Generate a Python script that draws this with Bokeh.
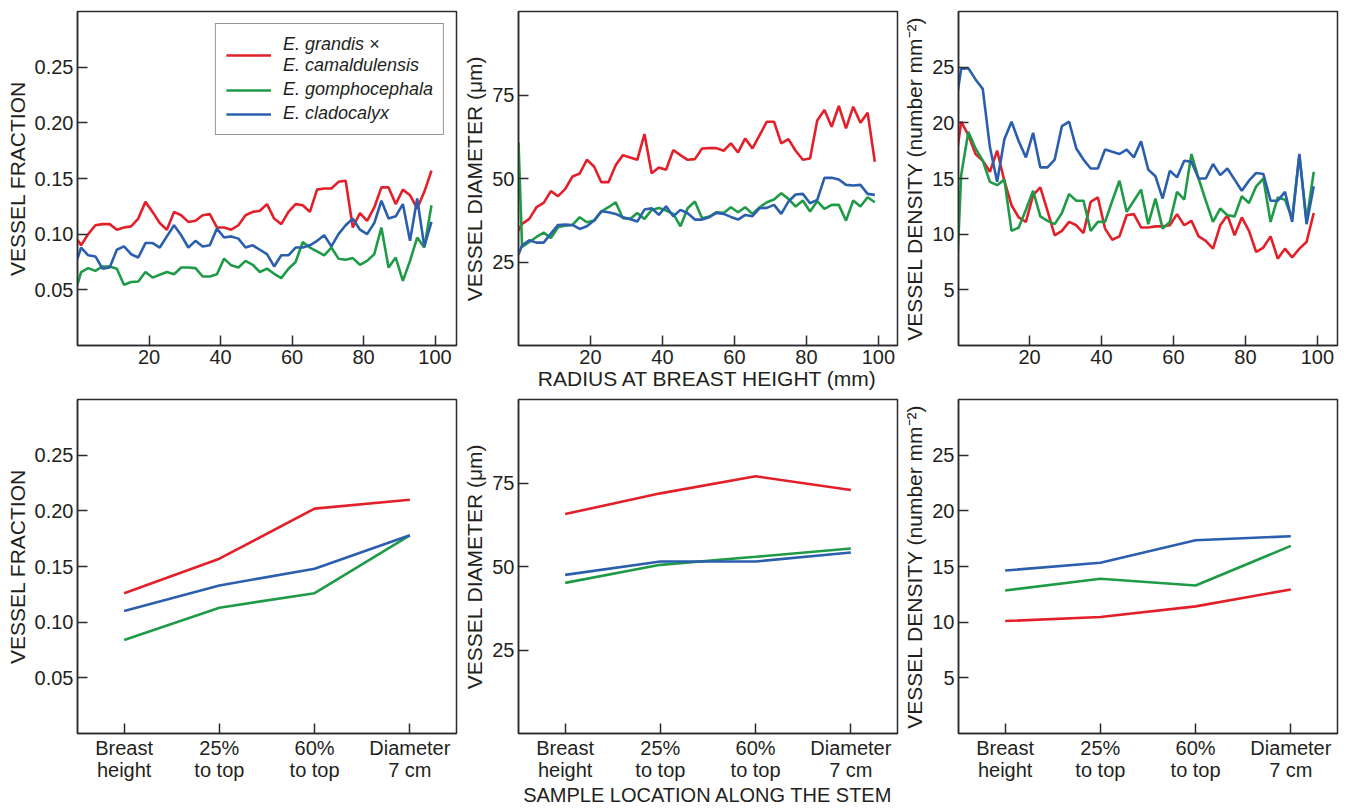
from bokeh.plotting import figure
from bokeh.layouts import column, row
from bokeh.models import FixedTicker, Range1d, PrintfTickFormatter
from bokeh.embed import file_html
from bokeh.resources import INLINE

# ---------------- data ----------------
species = ["E. grandis ×\nE. camaldulensis", "E. gomphocephala", "E. cladocalyx"]
colors = ["#E3202A", "#1F9B48", "#2B5FAE"]

radius_mm = [0, 1, 3, 5, 7, 9, 11, 13, 15, 17, 19, 21, 23, 25, 27, 29, 31, 33, 35, 37,
             39, 41, 43, 45, 47, 49, 51, 53, 55, 57, 59, 61, 63, 65, 67, 69, 71, 73, 75,
             77, 79, 81, 83, 85, 87, 89, 91, 93, 95, 97, 99]

frac_red = [0.095, 0.090, 0.100, 0.108, 0.109, 0.109, 0.104, 0.106, 0.107, 0.114,
            0.129, 0.120, 0.110, 0.104, 0.120, 0.117, 0.111, 0.112, 0.117, 0.118,
            0.106, 0.106, 0.104, 0.108, 0.117, 0.120, 0.121, 0.127, 0.114, 0.109,
            0.120, 0.127, 0.126, 0.120, 0.140, 0.141, 0.141, 0.147, 0.148, 0.106,
            0.119, 0.112, 0.124, 0.142, 0.142, 0.127, 0.140, 0.135, 0.123, 0.138,
            0.157]
frac_green = [0.055, 0.066, 0.0695, 0.067, 0.071, 0.071, 0.069, 0.0545, 0.057, 0.0575,
              0.066, 0.061, 0.0635, 0.066, 0.064, 0.070, 0.070, 0.0695, 0.062, 0.062,
              0.064, 0.078, 0.072, 0.070, 0.076, 0.0725, 0.066, 0.069, 0.0644, 0.0605,
              0.069, 0.075, 0.093, 0.088, 0.0845, 0.081, 0.088, 0.078, 0.077, 0.0785,
              0.0725, 0.076, 0.082, 0.106, 0.070, 0.079, 0.058, 0.076, 0.097, 0.088,
              0.126]
frac_blue = [0.078, 0.088, 0.081, 0.080, 0.069, 0.070, 0.086, 0.089, 0.082, 0.079,
             0.092, 0.092, 0.088, 0.098, 0.108, 0.099, 0.088, 0.094, 0.089, 0.090,
             0.105, 0.097, 0.098, 0.096, 0.088, 0.090, 0.086, 0.082, 0.071, 0.081,
             0.081, 0.088, 0.088, 0.090, 0.094, 0.099, 0.089, 0.100, 0.108, 0.114,
             0.104, 0.100, 0.110, 0.130, 0.114, 0.116, 0.127, 0.094, 0.132, 0.089,
             0.111]

diam_red = [34.4, 36.4, 37.9, 41.4, 42.7, 46.2, 44.7, 46.9, 50.6, 51.5,
            55.6, 53.6, 48.9, 48.9, 54.0, 57.0, 56.3, 55.6, 63.3, 51.6,
            53.3, 52.6, 58.5, 57.0, 55.6, 55.8, 59.0, 59.1, 59.1, 58.3,
            60.5, 57.8, 62.0, 59.0, 63.0, 67.0, 67.0, 60.5, 61.8, 58.3,
            55.6, 56.0, 67.4, 70.5, 65.5, 71.7, 65.0, 71.5, 66.7, 69.7,
            55.0]
diam_green = [60.8, 29.5, 31.0, 32.5, 33.8, 32.2, 35.4, 35.9, 36.1, 38.4,
              36.9, 37.4, 40.1, 41.4, 42.9, 38.1, 37.9, 39.7, 37.9, 40.6,
              41.2, 40.4, 39.4, 35.7, 41.1, 43.1, 38.1, 38.6, 39.9, 39.7,
              41.4, 39.9, 41.4, 39.4, 41.4, 42.9, 43.7, 45.6, 43.9, 41.6,
              43.4, 40.1, 43.2, 40.9, 42.1, 42.1, 37.4, 43.4, 41.6, 44.4,
              42.9]
diam_blue = [27.2, 30.0, 31.5, 30.8, 30.8, 33.5, 36.1, 36.2, 36.1, 34.9,
             35.7, 37.4, 40.2, 39.9, 39.4, 38.4, 37.9, 37.1, 40.7, 41.1,
             39.1, 41.7, 38.7, 40.6, 39.6, 37.7, 37.7, 38.4, 39.7, 39.4,
             38.5, 37.7, 39.1, 38.7, 41.1, 41.2, 42.1, 39.4, 43.1, 45.2,
             45.4, 42.6, 43.6, 50.2, 50.2, 49.7, 48.1, 47.9, 48.1, 45.4,
             45.1]

dens_red = [17.7, 20.1, 18.9, 17.2, 16.6, 15.6, 17.5, 14.8, 12.6, 11.5,
            11.1, 13.5, 14.2, 12.1, 9.9, 10.3, 11.1, 10.8, 10.1, 12.9,
            13.3, 10.5, 9.5, 9.8, 11.7, 11.8, 10.6, 10.6, 10.7, 10.7,
            10.8, 11.8, 10.8, 11.2, 9.8, 9.4, 8.7, 10.8, 11.7, 9.9,
            11.5, 10.3, 8.4, 8.8, 9.8, 7.8, 8.7, 7.9, 8.7, 9.3,
            11.9]
dens_green = [7.9, 15.3, 19.2, 17.7, 16.6, 14.7, 14.4, 14.9, 10.3, 10.6,
              12.2, 13.9, 11.6, 11.2, 10.9, 11.9, 13.6, 13.0, 13.0, 10.3,
              11.1, 11.1, 13.0, 14.8, 12.0, 13.0, 14.0, 10.9, 13.2, 10.5,
              11.1, 13.8, 13.1, 17.2, 15.0, 13.0, 11.1, 12.3, 11.7, 11.6,
              13.4, 12.8, 14.3, 15.0, 11.1, 13.3, 13.1, 11.4, 17.1, 11.2,
              15.6]
dens_blue = [22.7, 24.85, 24.9, 23.9, 23.05, 17.8, 14.7, 18.5, 20.1, 18.35,
             16.9, 19.1, 16.0, 16.0, 16.7, 19.7, 20.1, 17.7, 16.7, 15.9,
             15.9, 17.6, 17.4, 17.2, 17.6, 16.9, 18.35, 15.8, 15.2, 13.2,
             15.7, 15.1, 16.6, 16.5, 15.0, 15.0, 16.3, 15.3, 15.9, 14.9,
             13.9, 14.8, 15.5, 15.4, 13.0, 13.0, 13.8, 11.1, 17.2, 10.9,
             14.3]

locations = ["Breast\nheight", "25%\nto top", "60%\nto top", "Diameter\n7 cm"]
stem_frac_red = [0.126, 0.157, 0.202, 0.210]
stem_frac_green = [0.084, 0.113, 0.126, 0.178]
stem_frac_blue = [0.110, 0.133, 0.148, 0.178]
stem_diam_red = [65.7, 71.9, 77.0, 72.9]
stem_diam_green = [45.1, 50.5, 52.9, 55.4]
stem_diam_blue = [47.5, 51.5, 51.5, 54.2]
stem_dens_red = [10.1, 10.46, 11.42, 12.94]
stem_dens_green = [12.85, 13.9, 13.3, 16.85]
stem_dens_blue = [14.64, 15.33, 17.36, 17.72]

frac_ticks = [0.05, 0.10, 0.15, 0.20, 0.25]
diam_ticks = [25, 50, 75]
dens_ticks = [5, 10, 15, 20, 25]
radius_ticks = [20, 40, 60, 80, 100]

# ---------------- styling ----------------
FONT = "Liberation Sans"
INK = "#231f20"
FRAME = "#2b2b2b"
FW, FH = 379, 334
LW = 2.6


def make_fig(xr, yr, yticks, ylabel, left, right, top, bottom, xlabel=None):
    p = figure(frame_width=FW, frame_height=FH,
               x_range=Range1d(*xr), y_range=Range1d(*yr),
               output_backend="svg", toolbar_location=None,
               min_border_left=left, min_border_right=right,
               min_border_top=top, min_border_bottom=bottom,
               background_fill_color="white", border_fill_color="white")
    p.xgrid.visible = False
    p.ygrid.visible = False
    p.outline_line_color = FRAME
    p.outline_line_width = 1.5
    p.outline_line_alpha = 1.0
    p.yaxis.ticker = FixedTicker(ticks=yticks)
    p.yaxis.axis_label = ylabel
    p.yaxis.axis_label_standoff = 3
    if xlabel:
        p.xaxis.axis_label = xlabel
    p.xaxis.axis_label_standoff = 0
    for ax in p.axis:
        ax.axis_line_color = FRAME
        ax.axis_line_width = 1.5
        ax.major_tick_in = 10
        ax.major_tick_out = 0
        ax.minor_tick_in = 0
        ax.minor_tick_out = 0
        ax.major_tick_line_color = FRAME
        ax.major_tick_line_width = 1.5
        ax.major_label_text_font = FONT
        ax.major_label_text_font_size = "20px"
        ax.major_label_text_color = INK
        ax.major_label_standoff = 4
        ax.axis_label_text_font = FONT
        ax.axis_label_text_font_size = "21px"
        ax.axis_label_text_font_style = "normal"
        ax.axis_label_text_color = INK
    return p


TOP_T, TOP_B = 11, 50
BOT_T, BOT_B = 4, 74
L1, R1, L2, R2, L3, R3 = 77, 2, 60, 2, 59, 5

# ---- top row: radial profiles ----
p1 = make_fig((0, 106.0), (0, 0.30), frac_ticks, "VESSEL FRACTION", L1, R1, TOP_T, TOP_B)
p2 = make_fig((0, 105.3), (0, 100), diam_ticks, "VESSEL DIAMETER (μm)", L2, R2, TOP_T, TOP_B,
              xlabel="RADIUS AT BREAST HEIGHT (mm)")
p3 = make_fig((0.26, 105.6), (0, 30), dens_ticks, "VESSEL DENSITY (number mm⁻²)", L3, R3, TOP_T, TOP_B)
for p in (p1, p2, p3):
    p.xaxis.ticker = FixedTicker(ticks=radius_ticks)

for ys, c, name in zip([frac_red, frac_green, frac_blue], colors, species):
    p1.line(radius_mm, ys, line_color=c, line_width=LW, legend_label=name)
for ys, c in zip([diam_red, diam_green, diam_blue], colors):
    p2.line(radius_mm, ys, line_color=c, line_width=LW)
for ys, c in zip([dens_red, dens_green, dens_blue], colors):
    p3.line(radius_mm, ys, line_color=c, line_width=LW)

lg = p1.legend[0]
lg.location = "top_right"
lg.margin = 12
lg.padding = 10
lg.spacing = 3
lg.glyph_width = 45
lg.glyph_height = 20
lg.label_standoff = 12
lg.label_text_font = FONT
lg.label_text_font_size = "18px"
lg.label_text_font_style = "italic"
lg.label_text_color = INK
lg.label_text_line_height = 1.15
lg.border_line_color = FRAME
lg.border_line_width = 1.2
lg.background_fill_alpha = 1.0

# ---- bottom row: stem positions ----
loc_x = list(range(len(locations)))
overrides = {i: lab for i, lab in enumerate(locations)}

p4 = make_fig((-0.49, 3.49), (0, 0.30), frac_ticks, "VESSEL FRACTION", L1, R1, BOT_T, BOT_B)
p5 = make_fig((-0.49, 3.49), (0, 100), diam_ticks, "VESSEL DIAMETER (μm)", L2, R2, BOT_T, BOT_B,
              xlabel="SAMPLE LOCATION ALONG THE STEM")
p6 = make_fig((-0.49, 3.49), (0, 30), dens_ticks, "VESSEL DENSITY (number mm⁻²)", L3, R3, BOT_T, BOT_B)
for p in (p4, p5, p6):
    p.xaxis.ticker = FixedTicker(ticks=loc_x)
    p.xaxis.major_label_overrides = overrides
    p.xaxis.major_label_text_line_height = 1.0
    p.xaxis.major_label_standoff = 3
p5.xaxis.axis_label_text_font_size = "20px"

for p in (p1, p4):
    p.yaxis.formatter = PrintfTickFormatter(format="%.2f")

for ys, c in zip([stem_frac_red, stem_frac_green, stem_frac_blue], colors):
    p4.line(loc_x, ys, line_color=c, line_width=LW)
for ys, c in zip([stem_diam_red, stem_diam_green, stem_diam_blue], colors):
    p5.line(loc_x, ys, line_color=c, line_width=LW)
for ys, c in zip([stem_dens_red, stem_dens_green, stem_dens_blue], colors):
    p6.line(loc_x, ys, line_color=c, line_width=LW)

layout = column(row(p1, p2, p3), row(p4, p5, p6))

with open("out.html", "w") as f:
    f.write(file_html(layout, INLINE))
